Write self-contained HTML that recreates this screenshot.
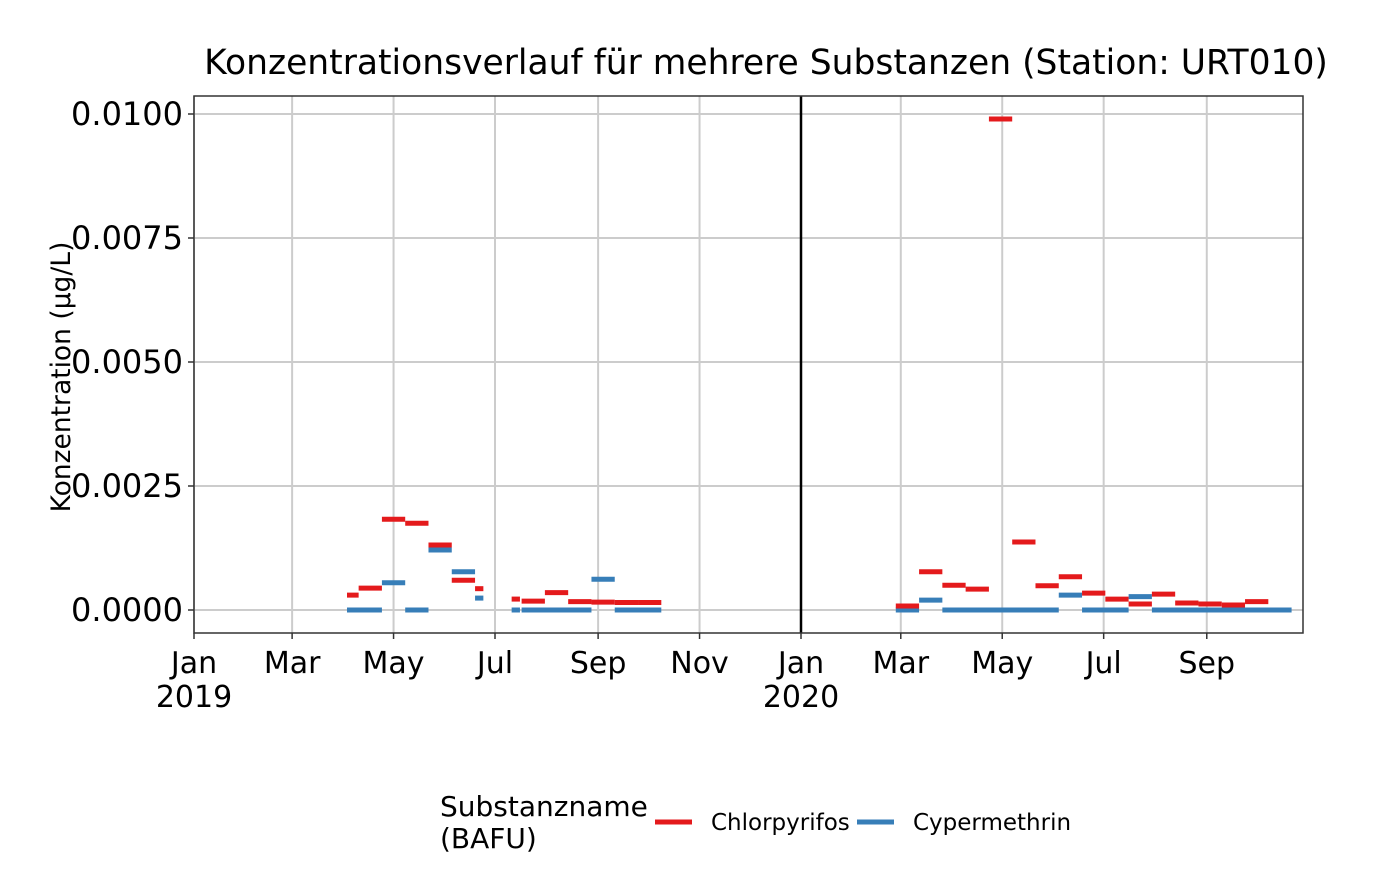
<!DOCTYPE html>
<html><head><meta charset="utf-8"><style>
body{margin:0;background:#fff;}
svg text{font-family:"DejaVu Sans","Liberation Sans",sans-serif;fill:#000;}
</style></head><body>
<svg id="c" width="1400" height="866" xmlns="http://www.w3.org/2000/svg">
<text x="766" y="74" font-size="34.5" text-anchor="middle">Konzentrationsverlauf für mehrere Substanzen (Station: URT010)</text>
<text transform="translate(70,377) rotate(-90)" font-size="26.5" text-anchor="middle">Konzentration (µg/L)</text>
<g id="grid"></g><g id="marks"></g><g id="axes"></g>
<g>
<text x="440" y="816" font-size="28">Substanzname</text>
<text x="440" y="848" font-size="28">(BAFU)</text>
<line x1="655" y1="822" x2="692" y2="822" stroke="#E41A1C" stroke-width="5"/>
<text x="711" y="830" font-size="23">Chlorpyrifos</text>
<line x1="857" y1="822" x2="894" y2="822" stroke="#377EB8" stroke-width="5"/>
<text x="913" y="830" font-size="23">Cypermethrin</text>
</g>
</svg>
<script>
const redStart=["2019-04-03","2019-04-10","2019-04-24","2019-05-08","2019-05-22","2019-06-05","2019-06-19","2019-07-11","2019-07-17","2019-07-31","2019-08-14","2019-08-28","2019-09-11","2019-09-25","2020-02-27","2020-03-12","2020-03-26","2020-04-09","2020-04-23","2020-05-07","2020-05-21","2020-06-04","2020-06-18","2020-07-02","2020-07-16","2020-07-30","2020-08-13","2020-08-27","2020-09-10","2020-09-24"];
const redEnd=["2019-04-10","2019-04-24","2019-05-08","2019-05-22","2019-06-05","2019-06-19","2019-06-24","2019-07-16","2019-07-31","2019-08-14","2019-08-28","2019-09-11","2019-09-25","2019-10-09","2020-03-12","2020-03-26","2020-04-09","2020-04-23","2020-05-07","2020-05-21","2020-06-04","2020-06-18","2020-07-02","2020-07-16","2020-07-30","2020-08-13","2020-08-27","2020-09-10","2020-09-24","2020-10-08"];
const redVal=[0.0003,0.00044,0.00183,0.00175,0.00131,0.0006,0.00043,0.00022,0.00018,0.00035,0.00017,0.00016,0.00015,0.00015,0.00008,0.00077,0.0005,0.00042,0.0099,0.00137,0.00049,0.00067,0.00034,0.00022,0.00012,0.00032,0.00014,0.00012,0.0001,0.00017];
const blueStart=["2019-04-03","2019-04-24","2019-05-08","2019-05-22","2019-06-05","2019-06-19","2019-07-11","2019-07-17","2019-08-28","2019-09-11","2020-02-27","2020-03-12","2020-03-26","2020-06-04","2020-06-18","2020-07-16","2020-07-30"];
const blueEnd=["2019-04-24","2019-05-08","2019-05-22","2019-06-05","2019-06-19","2019-06-24","2019-07-16","2019-08-28","2019-09-11","2019-10-09","2020-03-12","2020-03-26","2020-06-04","2020-06-18","2020-07-16","2020-07-30","2020-10-22"];
const blueVal=[0,0.00055,0,0.00121,0.00077,0.00024,0,0,0.00062,0,0,0.0002,0,0.0003,0,0.00027,0];
const yTicks=[0,0.0025,0.005,0.0075,0.01];
const yTickLabels=["0.0000","0.0025","0.0050","0.0075","0.0100"];
const xTicks=["2019-01-01","2019-03-01","2019-05-01","2019-07-01","2019-09-01","2019-11-01","2020-01-01","2020-03-01","2020-05-01","2020-07-01","2020-09-01"];
const xTickLabels=["Jan","Mar","May","Jul","Sep","Nov","Jan","Mar","May","Jul","Sep"];
const xTickYears=["2019","","","","","","2020","","","",""];
const NS="http://www.w3.org/2000/svg";
const L=194,R=1303,T=96,B=633;
const t0=Date.UTC(2019,0,1),pxDay=607/365;
function xs(d){return L+(Date.parse(d)-t0)/86400000*pxDay;}
function ys(v){return 610-v*49600;}
function mk(tag,at,parent){const e=document.createElementNS(NS,tag);for(const k in at)e.setAttribute(k,at[k]);parent.appendChild(e);return e;}
const grid=document.getElementById('grid'),marks=document.getElementById('marks'),axes=document.getElementById('axes');
mk('rect',{x:L,y:T,width:R-L,height:B-T,fill:'#fff'},grid);
yTicks.forEach((v,i)=>{
 const g=mk('line',{x1:L,x2:R,y1:ys(v),y2:ys(v),stroke:'#cccccc','stroke-width':2},grid);
 
 
 mk('line',{x1:L-6,x2:L,y1:ys(v),y2:ys(v),stroke:'#333','stroke-width':1.5},axes);
 const t=mk('text',{x:L-11,y:ys(v)+11,'font-size':32,'text-anchor':'end'},axes);
 t.textContent=yTickLabels[i];
 
 
});
xTicks.forEach((d,i)=>{
 const x=xs(d);
 const g=mk('line',{x1:x,x2:x,y1:T,y2:B,stroke:'#cccccc','stroke-width':2},grid);
 
 
 mk('line',{x1:x,x2:x,y1:B,y2:B+6,stroke:'#333','stroke-width':1.5},axes);
 const t=mk('text',{x:x,y:673,'font-size':30,'text-anchor':'middle'},axes);
 t.textContent=xTickLabels[i];
 
 
 if(xTickYears[i]){const y=mk('text',{x:x,y:707,'font-size':30,'text-anchor':'middle'},axes);y.textContent=xTickYears[i];
 
 }
});
const yl=mk('line',{x1:xs("2020-01-01"),x2:xs("2020-01-01"),y1:T,y2:B,stroke:'#000','stroke-width':2.5},grid);


function seg(s,e,v,c,n){const l=mk('line',{x1:xs(s),x2:xs(e),y1:ys(v),y2:ys(v),stroke:c,'stroke-width':5},marks);
 
 }
blueVal.forEach((v,i)=>seg(blueStart[i],blueEnd[i],v,'#377EB8','cypermethrin-segment'));
redVal.forEach((v,i)=>seg(redStart[i],redEnd[i],v,'#E41A1C','chlorpyrifos-segment'));
const fr=mk('rect',{x:L,y:T,width:R-L,height:B-T,fill:'none',stroke:'#333','stroke-width':1.5},axes);


</script>
</body></html>
